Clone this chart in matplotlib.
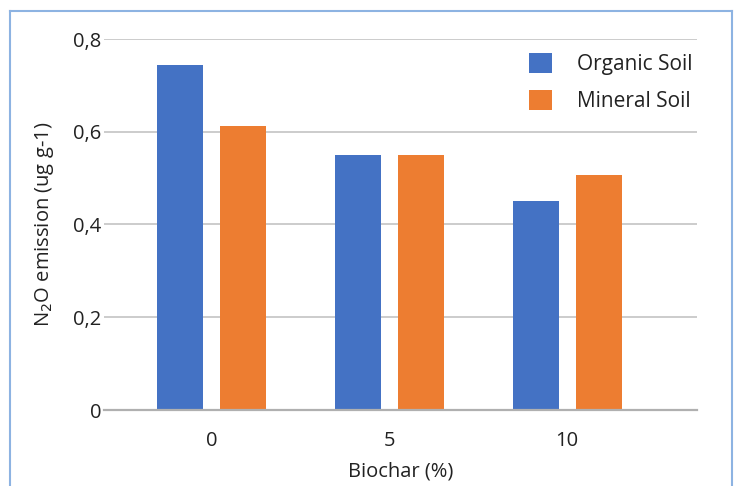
import matplotlib.pyplot as plt
from matplotlib.lines import Line2D
import numpy as np

categories = ["0", "5", "10"]
organic_soil = [0.745, 0.55, 0.45]
mineral_soil = [0.612, 0.55, 0.507]
y_ticks = [0, 0.2, 0.4, 0.6, 0.8]
y_tick_labels = ["0", "0,2", "0,4", "0,6", "0,8"]

blue = "#4472C4"
orange = "#ED7D31"

plt.rcParams['font.family'] = ['Open Sans', 'DejaVu Sans']

W, H = 738, 486
fig = plt.figure(figsize=(W / 100, H / 100), dpi=100)
ax = fig.add_axes([104 / W, 1 - 410 / H, (697 - 104) / W, (410 - 39) / H])

x = np.arange(len(categories))
width = 0.26
ax.bar(x - 0.177, organic_soil, width, color=blue, label="Organic Soil", zorder=3)
ax.bar(x + 0.177, mineral_soil, width, color=orange, label="Mineral Soil", zorder=3)

ax.set_xlim(-0.604, 2.73)
ax.set_ylim(0, 0.8)
ax.set_yticks(y_ticks)
ax.set_yticklabels(y_tick_labels)
ax.set_xticks(x)
ax.set_xticklabels(categories)
ax.tick_params(axis="both", length=0, labelsize=14.5, colors="#222222")
ax.tick_params(axis="y", pad=2)
ax.tick_params(axis="x", pad=15)
ax.grid(axis="y", color="#BFBFBF", linewidth=1.1, zorder=0)
for s in ["top", "right", "left"]:
    ax.spines[s].set_visible(False)
ax.spines["bottom"].set_color("#B0B0B0")
ax.spines["bottom"].set_linewidth(1.6)
ax.spines["bottom"].set_zorder(4)

ax.set_xlabel("Biochar (%)", fontsize=14.5, color="#222222", labelpad=8)
ax.set_ylabel("N$_2$O emission (ug g-1)", fontsize=14.5, color="#222222", labelpad=12)

ax.legend(loc="upper left", bbox_to_anchor=((510 - 104) / (697 - 104), 1 + 5 / (410 - 39)),
          frameon=False, fontsize=15, handlelength=1.1, handleheight=1.1,
          handletextpad=1.2, labelspacing=0.74, labelcolor="#222222")

# light blue frame around the figure (left, top, right)
fc = "#8DB3E2"
fig.add_artist(Line2D([10 / W, 10 / W], [0, 1 - 11 / H], color=fc, lw=1.5, transform=fig.transFigure))
fig.add_artist(Line2D([10 / W, 732 / W], [1 - 11 / H, 1 - 11 / H], color=fc, lw=1.5, transform=fig.transFigure))
fig.add_artist(Line2D([732 / W, 732 / W], [0, 1 - 11 / H], color=fc, lw=1.5, transform=fig.transFigure))

fig.savefig("out.png", dpi=100)
